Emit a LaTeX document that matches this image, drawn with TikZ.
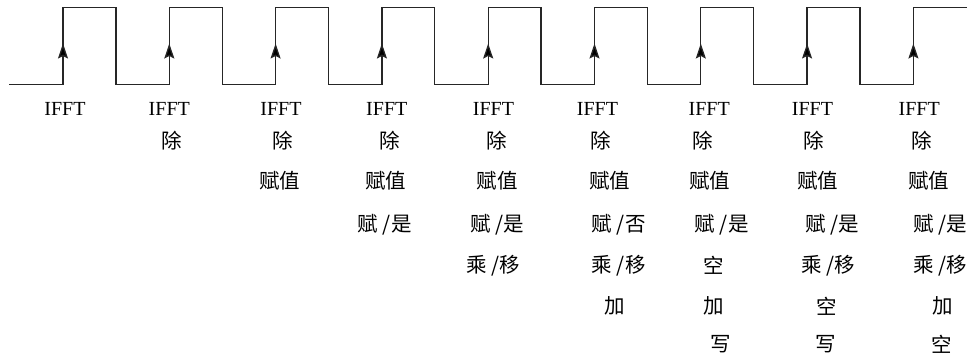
\documentclass[tikz,border=0pt]{standalone}
\usepackage{fontspec}
\setmainfont{Liberation Serif}
\newfontfamily\cjkfont{Noto Sans CJK SC}
\usetikzlibrary{arrows.meta}
\tikzset{
  wave/.style={line width=1.3pt, draw=black!85, line join=miter},
  edgearrow/.style={line width=1.3pt, draw=black!85, -{Stealth[length=15pt,width=10pt,inset=2.5pt,fill=black]}},
  lat/.style={inner sep=0pt, anchor=center, font=\fontsize{20}{24}\selectfont},
  cjk/.style={inner sep=0pt, anchor=center, font=\fontsize{20.5}{24}\selectfont\cjkfont}
}
\begin{document}
\begin{tikzpicture}[x=1pt,y=-1pt]
\useasboundingbox (0,0) rectangle (970,358);
% waveform
\draw[wave] (9,84.3)
  \foreach \i in {0,...,7} {
    -- ({63+106.3*\i},84.3) -- ({63+106.3*\i},7.3)
    -- ({115.9+106.3*\i},7.3) -- ({115.9+106.3*\i},84.3)
  }
  -- (913.4,84.3) -- (913.4,7.3) -- (966.7,7.3);
\foreach \i in {0,...,8} {
  \coordinate (lo\i) at ({63+106.3*\i},84.3);
  \coordinate (mid\i) at ({63+106.3*\i},43.5);
  \draw[edgearrow] (lo\i) -- (mid\i);
}
% column 1
\node[lat] (c1a) at (65,108.7) {IFFT};
% column 2
\node[lat] (c2a) at (169.3,108.7) {IFFT};
\node[cjk] (c2b) at (171.7,140.7) {除};
% column 3
\node[lat] (c3a) at (281,108.7) {IFFT};
\node[cjk] (c3b) at (282.5,140.7) {除};
\node[cjk] (c3c) at (279.7,180.5) {赋值};
% column 4
\node[lat] (c4a) at (386.8,108.7) {IFFT};
\node[cjk] (c4b) at (390,140.7) {除};
\node[cjk] (c4c) at (385.8,180.5) {赋值};
\node[cjk] (c4d) at (384.7,224.5) {赋 /是};
% column 5
\node[lat] (c5a) at (493.5,108.7) {IFFT};
\node[cjk] (c5b) at (496.8,140.7) {除};
\node[cjk] (c5c) at (497,180.5) {赋值};
\node[cjk] (c5d) at (497.3,224.5) {赋 /是};
\node[cjk] (c5e) at (493.3,265.5) {乘 /移};
% column 6
\node[lat] (c6a) at (597.5,108.7) {IFFT};
\node[cjk] (c6b) at (600.8,140.7) {除};
\node[cjk] (c6c) at (609.7,180.5) {赋值};
\node[cjk] (c6d) at (618.7,224.5) {赋 /否};
\node[cjk] (c6e) at (618.7,265.5) {乘 /移};
\node[cjk] (c6f) at (614.5,306) {加};
% column 7
\node[lat] (c7a) at (709.2,108.7) {IFFT};
\node[cjk] (c7b) at (703.2,140.7) {除};
\node[cjk] (c7c) at (709.7,180.5) {赋值};
\node[cjk] (c7d) at (721.7,224.5) {赋 /是};
\node[cjk] (c7e) at (713.7,265.5) {空};
\node[cjk] (c7f) at (713.7,306) {加};
\node[cjk] (c7g) at (720.8,344.5) {写};
% column 8
\node[lat] (c8a) at (812.5,108.7) {IFFT};
\node[cjk] (c8b) at (814.2,140.7) {除};
\node[cjk] (c8c) at (817.8,180.5) {赋值};
\node[cjk] (c8d) at (832.3,224.5) {赋 /是};
\node[cjk] (c8e) at (828.3,265.5) {乘 /移};
\node[cjk] (c8f) at (826.7,306) {空};
\node[cjk] (c8g) at (825.8,344.5) {写};
% column 9
\node[lat] (c9a) at (919.2,108.7) {IFFT};
\node[cjk] (c9b) at (921.8,140.7) {除};
\node[cjk] (c9c) at (928.8,180.5) {赋值};
\node[cjk] (c9d) at (940,224.5) {赋 /是};
\node[cjk] (c9e) at (940,265.5) {乘 /移};
\node[cjk] (c9f) at (942.5,306) {加};
\node[cjk] (c9g) at (941.7,344.5) {空};
\end{tikzpicture}
\end{document}
